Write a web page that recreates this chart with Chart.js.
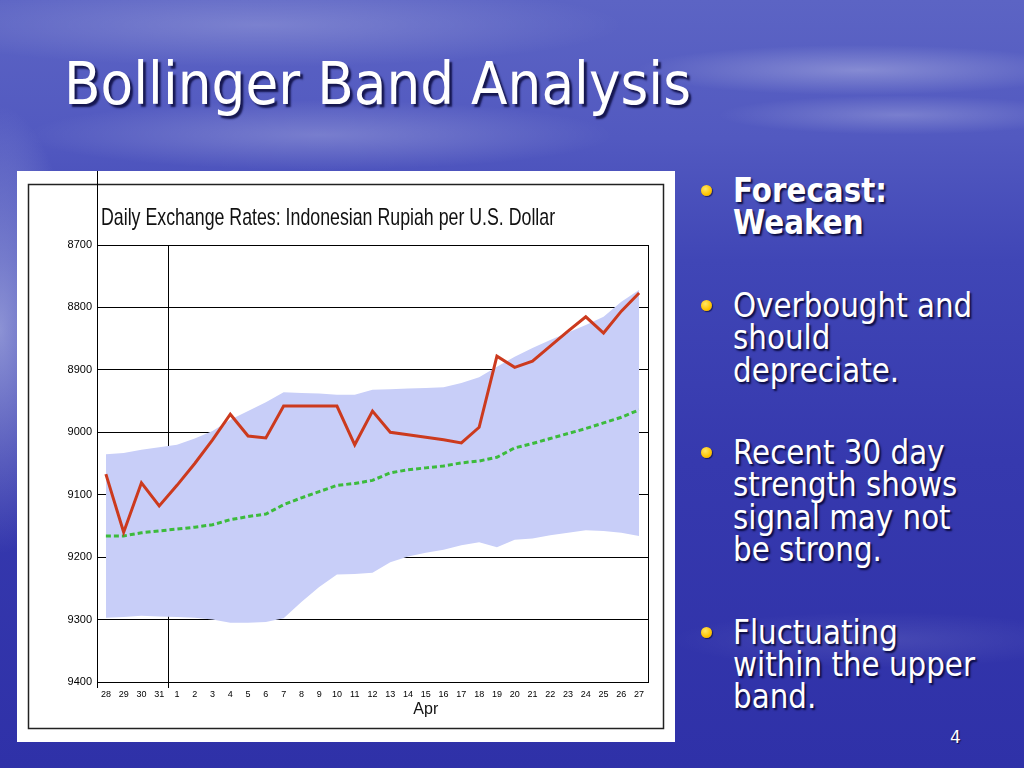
<!DOCTYPE html>
<html>
<head>
<meta charset="utf-8">
<script src="https://cdn.jsdelivr.net/npm/chart.js@4"></script>
<style>
  body { margin: 0; }
  #slide {
    position: relative; width: 1024px; height: 768px; overflow: hidden;
    font-family: 'DejaVu Sans', Verdana, sans-serif; color: #fff;
    background:
      radial-gradient(ellipse 320px 36px at 860px 70px, rgba(255,255,255,0.28), transparent 70%),
      radial-gradient(ellipse 260px 28px at 900px 115px, rgba(255,255,255,0.22), transparent 70%),
      radial-gradient(ellipse 420px 50px at 320px 135px, rgba(255,255,255,0.22), transparent 70%),
      radial-gradient(ellipse 520px 60px at 260px 25px, rgba(255,255,255,0.20), transparent 70%),
      radial-gradient(ellipse 110px 320px at 0px 330px, rgba(205,212,240,0.55), transparent 70%),
      radial-gradient(ellipse 300px 40px at 880px 640px, rgba(255,255,255,0.10), transparent 70%),
      linear-gradient(180deg, #5c64c4 0%, #5259c0 18%, #4046b6 34%, #3639ae 60%, #2f31a8 100%);
  }
  h1 {
    position: absolute; left: 64px; top: 55px; margin: 0;
    font-size: 58px; line-height: 58px; font-weight: normal; white-space: nowrap;
    transform: scaleX(0.92); transform-origin: left top;
    text-shadow: 3px 3px 2px rgba(10,10,60,0.85);
  }
  #panel {
    position: absolute; left: 17px; top: 171px; width: 658px; height: 571px; background: #fff;
  }
  #points {
    position: absolute; left: 733px; top: 175px; margin: 0; padding: 0; list-style: none;
    font-size: 33px; line-height: 32.4px; white-space: nowrap;
    text-shadow: 2px 2px 2px rgba(0,0,40,0.85);
  }
  #points li { position: relative; margin-bottom: 50px; }
  #points li span { display: inline-block; transform: scaleX(0.89); transform-origin: left top; }
  #points li::before {
    content: ''; position: absolute; left: -32px; top: 10px; width: 11px; height: 11px; border-radius: 50%;
    background: radial-gradient(circle at 40% 35%, #ffe766, #ffc400 60%, #d99a00);
    box-shadow: 1px 1px 1px rgba(0,0,40,0.6);
  }
  #points li.bold span { font-weight: bold; }
  #pageNo {
    position: absolute; left: 950px; top: 727px; font-size: 17px;
    text-shadow: 1px 1px 1px rgba(0,0,40,0.8);
  }
</style>
</head>
<body>
<div id="slide">
  <h1>Bollinger Band Analysis</h1>
  <div id="panel"><canvas id="bandChart" width="658" height="571"></canvas></div>
  <ul id="points">
    <li class="bold"><span>Forecast:<br>Weaken</span></li>
    <li><span>Overbought and<br>should<br>depreciate.</span></li>
    <li><span>Recent 30 day<br>strength shows<br>signal may not<br>be strong.</span></li>
    <li><span>Fluctuating<br>within the upper<br>band.</span></li>
  </ul>
  <div id="pageNo">4</div>
</div>
<script>
// Mar 28 .. Apr 27
const days = ['28', '29', '30', '31', '1', '2', '3', '4', '5', '6', '7', '8', '9', '10', '11', '12',
  '13', '14', '15', '16', '17', '18', '19', '20', '21', '22', '23', '24', '25', '26', '27'];

// rupiah per dollar
const rate = [9067, 9160, 9081, 9118, 9085, 9050, 9012, 8971, 9006, 9009, 8958, 8958, 8958, 8958, 9020, 8966,
  9000, 9004, 9008, 9012, 9017, 8992, 8878, 8896, 8886, 8862, 8838, 8815, 8841, 8806, 8777];
const movingAvg = [9166, 9166, 9161, 9158, 9155, 9152, 9148, 9140, 9135, 9131, 9116, 9105, 9095, 9085, 9082, 9077,
  9065, 9060, 9057, 9054, 9049, 9046, 9040, 9025, 9018, 9010, 9002, 8994, 8985, 8976, 8964];
const upperBand = [9035, 9033, 9028, 9024, 9020, 9010, 8998, 8980, 8966, 8952, 8936, 8937, 8938, 8940, 8940, 8932,
  8931, 8930, 8929, 8928, 8921, 8912, 8895, 8879, 8865, 8852, 8840, 8828, 8815, 8791, 8772];
const lowerBand = [9297, 9296, 9294, 9295, 9296, 9297, 9300, 9305, 9305, 9304, 9298, 9272, 9248, 9228, 9227, 9225,
  9208, 9199, 9193, 9188, 9181, 9176, 9184, 9172, 9170, 9165, 9161, 9157, 9158, 9161, 9166];

const yTicks = [8700, 8800, 8900, 9000, 9100, 9200, 9300, 9400];
const chartTitle = 'Daily Exchange Rates: Indonesian Rupiah per U.S. Dollar';
const monthLabel = 'Apr';
const monthUnder = '15';
const firstOfMonth = 4; // index of "1"

const FONT = '"Liberation Sans", Arial, sans-serif';

// frame, condensed title, month label, axis running up past the frame
const slideDecor = {
    id: 'slideDecor',
    afterDraw(chart) {
        const { ctx, chartArea, scales } = chart;
        ctx.save();
        ctx.strokeStyle = '#222';
        ctx.lineWidth = 1.5;
        ctx.strokeRect(11.5, 13.5, 635, 544);

        ctx.lineWidth = 1;
        ctx.strokeStyle = '#000';
        ctx.beginPath();
        ctx.moveTo(chartArea.left + 0.5, 0);
        ctx.lineTo(chartArea.left + 0.5, chartArea.top);
        ctx.stroke();

        ctx.fillStyle = '#111';
        ctx.textBaseline = 'alphabetic';
        ctx.save();
        ctx.font = '24px ' + FONT;
        ctx.translate(chartArea.left + 4, 54);
        ctx.scale(0.74, 1);
        ctx.fillText(chartTitle, 0, 0);
        ctx.restore();

        ctx.font = '16px ' + FONT;
        ctx.textAlign = 'center';
        ctx.fillText(monthLabel, scales.x.getPixelForValue(days.indexOf(monthUnder)), chartArea.bottom + 32);
        ctx.restore();
    }
};

new Chart(document.getElementById('bandChart'), {
    type: 'line',
    data: {
        labels: days,
        datasets: [
            { label: 'Rate', data: rate, borderColor: '#cc3a1e', borderWidth: 3, fill: false },
            { label: 'Moving average', data: movingAvg, borderColor: '#3cbb3c', borderWidth: 3, borderDash: [5, 3], fill: false },
            { label: 'Upper band', data: upperBand, borderColor: 'transparent', borderWidth: 0, backgroundColor: '#c8cef8', fill: '+1' },
            { label: 'Lower band', data: lowerBand, borderColor: 'transparent', borderWidth: 0, fill: false }
        ]
    },
    options: {
        responsive: false,
        animation: false,
        layout: { padding: { top: 74, right: 27, left: 0, bottom: 0 } },
        elements: { point: { radius: 0 }, line: { tension: 0 } },
        plugins: { legend: { display: false }, title: { display: false }, tooltip: { enabled: false } },
        scales: {
            x: {
                offset: true,
                grid: {
                    offset: true,
                    tickLength: 6,
                    color: c => (c.type === 'scale' || c.index === firstOfMonth) ? '#000' : 'transparent',
                    tickColor: c => (c.index === 0 || c.index === firstOfMonth) ? '#000' : 'transparent'
                },
                border: { color: '#000', width: 1 },
                ticks: { font: { size: 9, family: FONT }, color: '#000', padding: 1, maxRotation: 0, autoSkip: false },
                afterFit: s => { s.height = 60; }
            },
            y: {
                reverse: true,
                min: yTicks[0],
                max: yTicks[yTicks.length - 1],
                afterBuildTicks: s => { s.ticks = yTicks.map(v => ({ value: v })); },
                ticks: { callback: v => String(v), font: { size: 11, family: FONT }, color: '#000', padding: 5 },
                grid: { color: '#000', drawTicks: false },
                border: { color: '#000', width: 1 },
                afterFit: s => { s.width = 80; }
            }
        }
    },
    plugins: [slideDecor]
});
</script>
</body>
</html>
